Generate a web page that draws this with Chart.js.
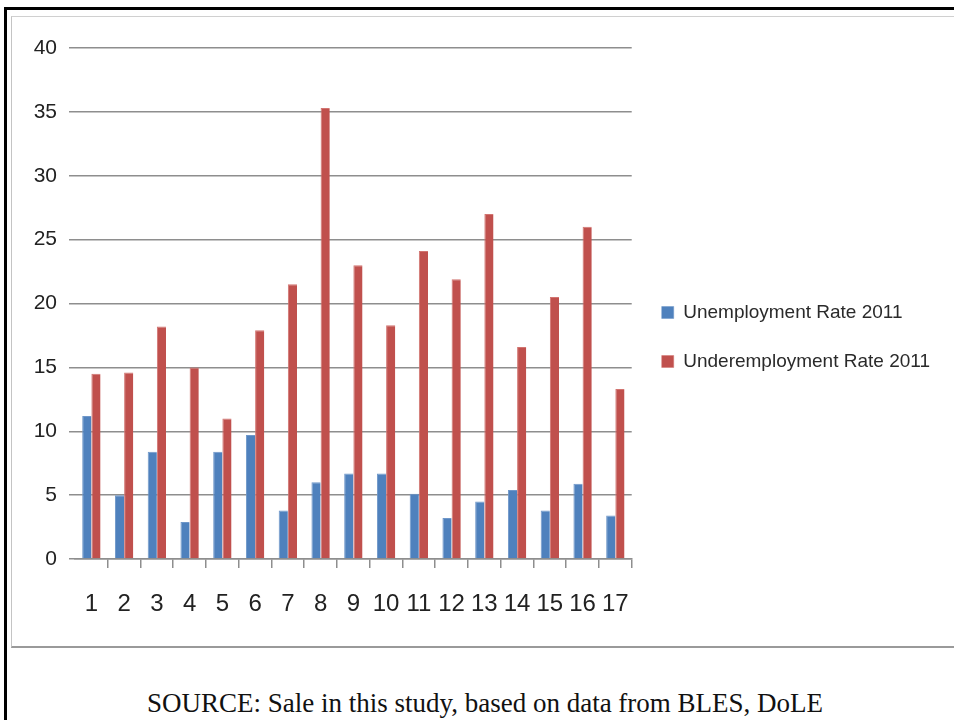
<!DOCTYPE html>
<html>
<head>
<meta charset="utf-8">
<script src="https://cdn.jsdelivr.net/npm/chart.js@4/dist/chart.umd.min.js"></script>
<style>
  html, body { margin: 0; padding: 0; background: #fff; }
  body { width: 954px; height: 720px; position: relative; overflow: hidden; }
  .frame-top { position: absolute; left: 4px; top: 7px; width: 950px; height: 3px; background: #000; }
  .frame-left { position: absolute; left: 4px; top: 7px; width: 3px; height: 713px; background: #000; }
  .panel {
    position: absolute; left: 11px; top: 16px; width: 960px; height: 629px;
    border-left: 1px solid #c4c4c4; border-top: 1px solid #d0d0d0; border-bottom: 2px solid #9a9a9a;
    box-sizing: content-box;
  }
  .chart-box { position: absolute; left: 11px; top: 16px; width: 943px; height: 630px; }
  .source {
    position: absolute; left: 8px; width: 954px; top: 688px; text-align: center;
    font-family: "Liberation Serif", "Times New Roman", serif; font-size: 27px; color: #111;
    white-space: nowrap;
  }
</style>
</head>
<body>
<div class="frame-top"></div>
<div class="frame-left"></div>
<div class="panel"></div>
<div class="chart-box"><canvas id="chart"></canvas></div>
<div class="source">SOURCE: Sale in this study, based on data from BLES, DoLE</div>
<script>
// Region numbers along the category axis
const regions = ['1','2','3','4','5','6','7','8','9','10','11','12','13','14','15','16','17'];
// Rates in percent, 2011
const unemployment2011 = [11.2, 5.0, 8.4, 2.9, 8.4, 9.7, 3.8, 6.0, 6.7, 6.7, 5.1, 3.2, 4.5, 5.4, 3.8, 5.9, 3.4];
const underemployment2011 = [14.5, 14.6, 18.2, 15.0, 11.0, 17.9, 21.5, 35.3, 23.0, 18.3, 24.1, 21.9, 27.0, 16.6, 20.5, 26.0, 13.3];
const yTicks = [0, 5, 10, 15, 20, 25, 30, 35, 40];
const seriesNames = ['Unemployment Rate 2011', 'Underemployment Rate 2011'];

const gridGrey = '#8e8e8e';

new Chart(document.getElementById('chart'), {
  type: 'bar',
  data: {
    labels: regions,
    datasets: [
      { label: seriesNames[0], data: unemployment2011, backgroundColor: '#4F81BD',
        borderColor: '#6f97c9', borderWidth: { left: 1, top: 1 } },
      { label: seriesNames[1], data: underemployment2011, backgroundColor: '#C0504D',
        borderColor: '#d27470', borderWidth: { left: 1, top: 1 } }
    ]
  },
  options: {
    responsive: true,
    maintainAspectRatio: false,
    animation: false,
    events: [],
    categoryPercentage: 0.56,
    barPercentage: 1.0,
    layout: { padding: { top: 32, left: 0, right: 14, bottom: 20 } },
    plugins: {
      tooltip: { enabled: false },
      legend: {
        position: 'right',
        align: 'center',
        maxWidth: 340,
        labels: {
          boxWidth: 12, boxHeight: 12, padding: 30,
          color: '#2a2a2a',
          font: { family: '"Liberation Sans", Arial, sans-serif', size: 19 }
        }
      }
    },
    scales: {
      x: {
        grid: {
          offset: true, drawOnChartArea: false, drawTicks: true, tickLength: 9,
          color: (ctx) => ctx.index === 0 ? 'rgba(0,0,0,0)' : gridGrey, lineWidth: 1.5
        },
        border: { display: true, color: gridGrey, width: 1.5 },
        ticks: {
          padding: 22, color: '#222', autoSkip: false, maxRotation: 0, minRotation: 0,
          font: { family: '"Liberation Sans", Arial, sans-serif', size: 24 }
        },
        // tick labels may run into the bottom padding
        afterFit: (scale) => { scale.height = 67; }
      },
      y: {
        min: 0, max: 40,
        afterBuildTicks: (scale) => { scale.ticks = yTicks.map(v => ({ value: v })); },
        grid: { color: gridGrey, lineWidth: 1.5, drawTicks: true, tickLength: 6 },
        border: { display: false },
        ticks: {
          padding: 12, color: '#222',
          font: { family: '"Liberation Sans", Arial, sans-serif', size: 21 }
        },
        afterFit: (scale) => { scale.width = 64; }
      }
    }
  }
});
</script>
</body>
</html>
